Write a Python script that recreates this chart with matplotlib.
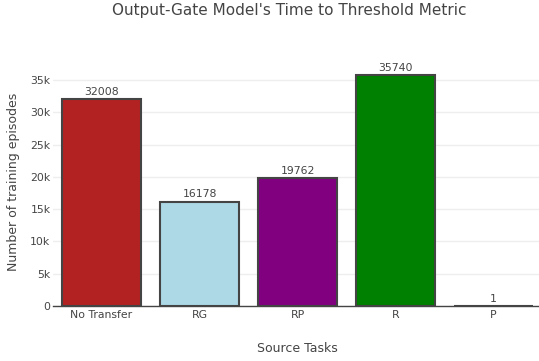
import numpy as np
import matplotlib.pyplot as plt
from matplotlib.ticker import FuncFormatter

plt.rcParams['font.family'] = ['DejaVu Sans']

tasks = ['No Transfer', 'RG', 'RP', 'R', 'P']
episodes = [32008, 16178, 19762, 35740, 1]
colors = ['#b22222', '#add8e6', '#800080', '#008000', '#808080']

txt = '#444444'
W, H = 539, 361
fig = plt.figure(figsize=(W / 100, H / 100), dpi=100)
# plot area in pixels: left 52.5, right 542.5, top 63, bottom 306
ax = fig.add_axes([52.5 / W, (H - 306) / H, 490 / W, (306 - 63) / H])

x = np.arange(len(tasks))
ax.bar(x, episodes, width=0.8, color=colors, edgecolor='#444444', linewidth=1.5, zorder=3)
for xi, v in zip(x, episodes):
    ax.annotate(str(v), (xi, v), xytext=(0, 1.5), textcoords='offset points',
                ha='center', va='bottom', fontsize=7.8, color=txt, zorder=4)

ax.set_xlim(-0.5, 4.5)
ax.set_ylim(0, max(episodes) * 1.053)
ax.set_xticks(x)
ax.set_xticklabels(tasks)
ax.set_yticks(np.arange(0, 35001, 5000))
ax.yaxis.set_major_formatter(FuncFormatter(lambda v, p: '0' if v == 0 else f'{int(v/1000)}k'))
ax.tick_params(axis='x', length=0, pad=3, labelsize=7.8, labelcolor=txt)
ax.tick_params(axis='y', length=0, pad=1.5, labelsize=7.8, labelcolor=txt)
ax.grid(axis='y', color='#eeeeee', linewidth=1, zorder=0)
for s in ['top', 'right', 'left']:
    ax.spines[s].set_visible(False)
ax.spines['bottom'].set_color('#444444')
ax.spines['bottom'].set_linewidth(1)

fig.text(297 / W, 1 - 348 / H, 'Source Tasks', ha='center', va='center', fontsize=9, color=txt)
fig.text(14 / W, 1 - 182 / H, 'Number of training episodes', ha='center', va='center',
         rotation=90, fontsize=9, color=txt)
fig.text(289 / W, 1 - 10 / H, "Output-Gate Model's Time to Threshold Metric", ha='center',
         va='center', fontsize=11, color=txt)

fig.savefig('out.png', dpi=100)
